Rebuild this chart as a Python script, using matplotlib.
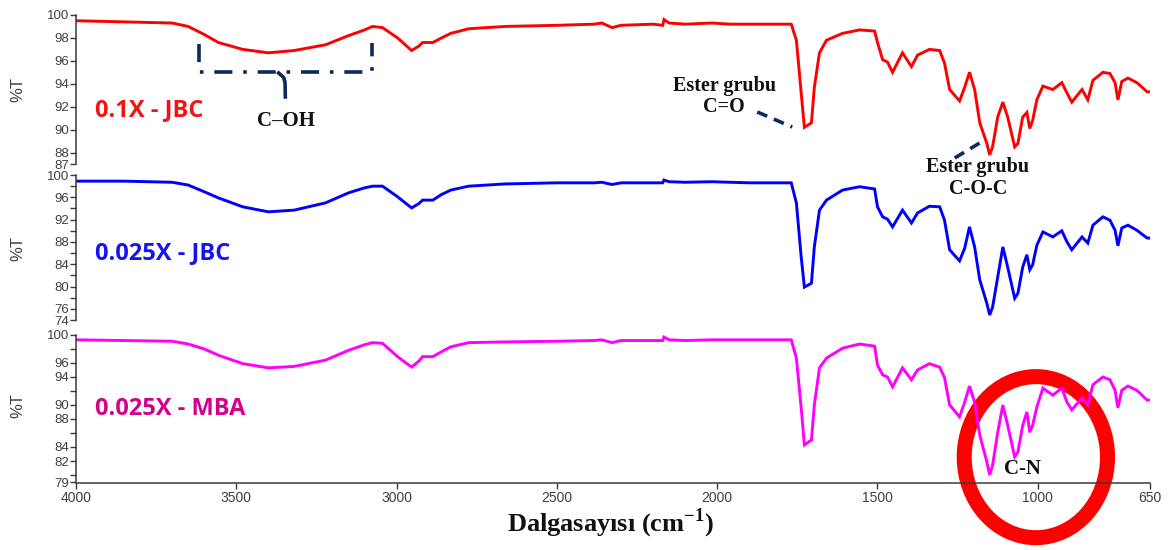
import matplotlib
matplotlib.use("Agg")
import matplotlib.pyplot as plt
from matplotlib.patches import Ellipse

# FTIR spectra (% transmittance vs wavenumber, cm^-1)
wavenumber = [4000, 3850, 3700, 3650, 3600, 3556, 3480, 3400, 3320, 3222,
              3150, 3100, 3075, 3044, 2997, 2953, 2930, 2919, 2887, 2860,
              2831, 2775, 2662, 2500, 2384, 2360, 2328, 2300, 2200, 2170,
              2166, 2150, 2100, 2016, 1960, 1900, 1769, 1753, 1738, 1728,
              1706, 1697, 1681, 1659, 1609, 1556, 1509, 1500, 1484, 1469,
              1453, 1422, 1394, 1375, 1338, 1306, 1291, 1275, 1244, 1228,
              1213, 1197, 1181, 1159, 1150, 1141, 1125, 1109, 1094, 1072,
              1062, 1047, 1034, 1025, 1016, 1003, 984, 953, 925, 909,
              894, 862, 844, 828, 797, 775, 759, 750, 738, 719,
              691, 659, 650]

t_01x_jbc = [99.5, 99.4, 99.3, 99.0, 98.3, 97.6, 97.0, 96.7, 96.9, 97.4,
             98.2, 98.7, 99.0, 98.9, 98.0, 96.9, 97.3, 97.6, 97.6, 98.0,
             98.4, 98.8, 99.0, 99.1, 99.2, 99.3, 98.9, 99.1, 99.2, 99.1,
             99.6, 99.3, 99.2, 99.3, 99.2, 99.2, 99.2, 97.8, 93.2, 90.2,
             90.6, 93.7, 96.7, 97.8, 98.4, 98.7, 98.6, 97.6, 96.1, 95.9,
             95.0, 96.7, 95.5, 96.5, 97.0, 96.9, 95.8, 93.5, 92.5, 93.7,
             95.0, 93.5, 90.6, 88.8, 87.8, 88.5, 91.1, 92.4, 91.1, 88.5,
             88.8, 91.1, 91.5, 90.1, 90.8, 92.6, 93.8, 93.5, 94.1, 93.2,
             92.4, 93.5, 92.6, 94.3, 95.0, 94.9, 94.1, 92.6, 94.2, 94.5,
             94.1, 93.3, 93.3]

t_0025x_jbc = [98.9, 98.9, 98.7, 98.2, 97.0, 95.9, 94.3, 93.4, 93.7, 95.0,
               96.8, 97.7, 98.0, 98.0, 96.1, 94.1, 94.9, 95.5, 95.5, 96.5,
               97.3, 98.0, 98.4, 98.6, 98.6, 98.7, 98.3, 98.6, 98.6, 98.6,
               99.1, 98.8, 98.7, 98.8, 98.7, 98.6, 98.6, 95.0, 85.3, 79.9,
               80.6, 87.1, 93.7, 95.5, 97.3, 97.9, 97.5, 94.3, 92.5, 92.1,
               90.7, 93.7, 91.4, 93.2, 94.4, 94.3, 91.9, 86.6, 84.6, 86.9,
               90.7, 87.1, 81.2, 77.0, 74.9, 76.3, 81.7, 87.1, 83.5, 77.9,
               78.8, 83.5, 85.7, 83.0, 83.9, 87.4, 89.8, 88.9, 90.0, 88.0,
               86.6, 88.9, 87.8, 91.0, 92.5, 91.9, 90.1, 87.3, 90.5, 91.0,
               90.1, 88.7, 88.7]

t_0025x_mba = [99.3, 99.2, 99.1, 98.7, 98.0, 97.1, 95.9, 95.3, 95.5, 96.4,
               97.8, 98.6, 98.9, 98.8, 96.9, 95.4, 96.3, 96.9, 96.9, 97.6,
               98.3, 98.9, 99.0, 99.1, 99.2, 99.3, 98.9, 99.2, 99.2, 99.2,
               99.7, 99.3, 99.2, 99.3, 99.3, 99.3, 99.3, 96.7, 89.6, 84.3,
               85.0, 90.0, 95.3, 96.7, 98.1, 98.7, 98.4, 95.7, 94.3, 94.0,
               92.6, 95.3, 93.6, 95.0, 95.9, 95.4, 93.9, 90.0, 88.3, 90.4,
               92.7, 90.4, 85.7, 81.9, 80.0, 81.4, 86.1, 90.0, 87.1, 82.6,
               83.3, 87.1, 89.0, 86.1, 87.1, 89.7, 92.4, 91.4, 92.4, 90.4,
               89.3, 91.0, 90.0, 92.9, 94.0, 93.6, 92.1, 89.6, 92.1, 92.7,
               92.1, 90.7, 90.7]

sample_names = ["0.1X - JBC", "0.025X - JBC", "0.025X - MBA"]
series = [t_01x_jbc, t_0025x_jbc, t_0025x_mba]
line_colors = ["#ff0000", "#0000ff", "#ff00ff"]
label_colors = ["#f01414", "#1414f0", "#d4008c"]

x_ticks = [4000, 3500, 3000, 2500, 2000, 1500, 1000, 650]
y_major = [[100, 98, 96, 94, 92, 90, 88, 87],
           [100, 96, 92, 88, 84, 80, 76, 74],
           [100, 96, 94, 90, 88, 84, 82, 79]]
y_minor = [[], [98, 94, 90, 86, 82, 78], [98, 92, 86, 80]]
y_limits = [(86.48, 100.61), (72.57, 100.9), (78.86, 100.99)]
label_levels = [91.7, 86.0, 89.4]

W, H = 1170, 550
fig = plt.figure(figsize=(W / 100, H / 100), dpi=100)
plt.rcParams["mathtext.fontset"] = "custom"
plt.rcParams["mathtext.rm"] = "Liberation Serif:bold"
plt.rcParams["mathtext.bf"] = "Liberation Serif:bold"

# vertical pixel extent of each stacked panel
panel_px = [(8, 170), (170, 328), (328, 483)]
left_px, right_px = 76, 1150

tick_gray = "#404040"
spine_gray = "#3a3a3a"
navy = "#0c2a5c"
ink = "#111111"
serif = "Liberation Serif"

axes = []
for i, (top, bottom) in enumerate(panel_px):
    ax = fig.add_axes([left_px / W, 1 - bottom / H,
                       (right_px - left_px) / W, (bottom - top) / H])
    ax.plot(wavenumber, series[i], color=line_colors[i], lw=2.1,
            solid_joinstyle="miter")
    ax.set_xlim(4000, 650)
    ax.set_ylim(*y_limits[i])
    for s in ("top", "right"):
        ax.spines[s].set_visible(False)
    ax.spines["left"].set_bounds(min(y_major[i]), max(y_major[i]))
    ax.spines["left"].set_color(spine_gray)
    ax.spines["left"].set_linewidth(1.1)
    ax.set_yticks(y_major[i])
    ax.set_yticks(y_minor[i], minor=True)
    ax.tick_params(axis="y", which="both", direction="out", length=4,
                   width=1.0, color=spine_gray, labelsize=9.5,
                   labelcolor=tick_gray, pad=1)
    for lab in ax.get_yticklabels():
        lab.set_fontfamily("Liberation Sans")
    ax.patch.set_alpha(0)
    lo, hi = y_limits[i]
    ax.text(0.018, (label_levels[i] - lo) / (hi - lo), sample_names[i],
            transform=ax.transAxes, color=label_colors[i],
            fontsize=17, fontweight="bold", family="Open Sans",
            ha="left", va="center")
    fig.text(18 / W, 1 - (top + bottom) / 2 / H, "%T", rotation=90,
             fontsize=12, color=tick_gray, family="Liberation Sans",
             ha="center", va="center")
    if i < 2:
        ax.spines["bottom"].set_visible(False)
        ax.tick_params(axis="x", bottom=False, labelbottom=False)
    else:
        ax.spines["bottom"].set_color(spine_gray)
        ax.spines["bottom"].set_linewidth(1.1)
        ax.set_xticks(x_ticks)
        ax.set_xticklabels([str(v) for v in x_ticks],
                           family="Liberation Sans")
        ax.tick_params(axis="x", direction="out", length=4, width=1.0,
                       color=spine_gray, labelsize=10,
                       labelcolor=tick_gray, pad=2)
    axes.append(ax)

ax1, ax2, ax3 = axes

# C-OH band bracket
ax1.plot([3616, 3616, 3078, 3078], [97.47, 95.03, 95.03, 97.56],
         color=navy, lw=2.6, ls=(0, (5, 3, 1, 3)), clip_on=False)
ax1.plot([3368, 3352, 3348, 3347], [94.94, 94.55, 94.10, 92.85],
         color=navy, lw=2.6, clip_on=False)
ax1.text(3344, 90.76, "C\u2013OH", family=serif, fontweight="bold",
         fontsize=15, ha="center", va="center", color=ink)

# ester carbonyl
ax1.text(1978, 92.9, "Ester grubu\nC=O", family=serif, fontweight="bold",
         fontsize=14.5, ha="center", va="center", linespacing=1.1,
         color=ink)
ax1.plot([1875, 1766], [91.54, 90.23], color=navy, lw=2.6,
         ls=(0, (3, 2)), clip_on=False)

# ester C-O-C
ax1.text(1187, 85.79, "Ester grubu\nC-O-C", family=serif, fontweight="bold",
         fontsize=14.5, ha="center", va="center", linespacing=1.1,
         color=ink, clip_on=False)
ax1.plot([1259, 1181], [87.53, 88.84], color=navy, lw=2.6,
         ls=(0, (3, 2)), clip_on=False)

# C-N region
ax3.text(1047, 80.84, "C-N", family=serif, fontweight="bold",
         fontsize=15, ha="center", va="center", color=ink)
ax3.add_patch(Ellipse((1006, 82.55), 447, 23.0, fill=False,
                      edgecolor="#ff0000", lw=10.8, clip_on=False))

fig.text(610 / W, 1 - 523 / H, "Dalgasayısı (cm$^{-1}$)", family=serif,
         fontweight="bold", fontsize=19, ha="center", va="center",
         color=ink)

fig.savefig("out.png", dpi=100)
